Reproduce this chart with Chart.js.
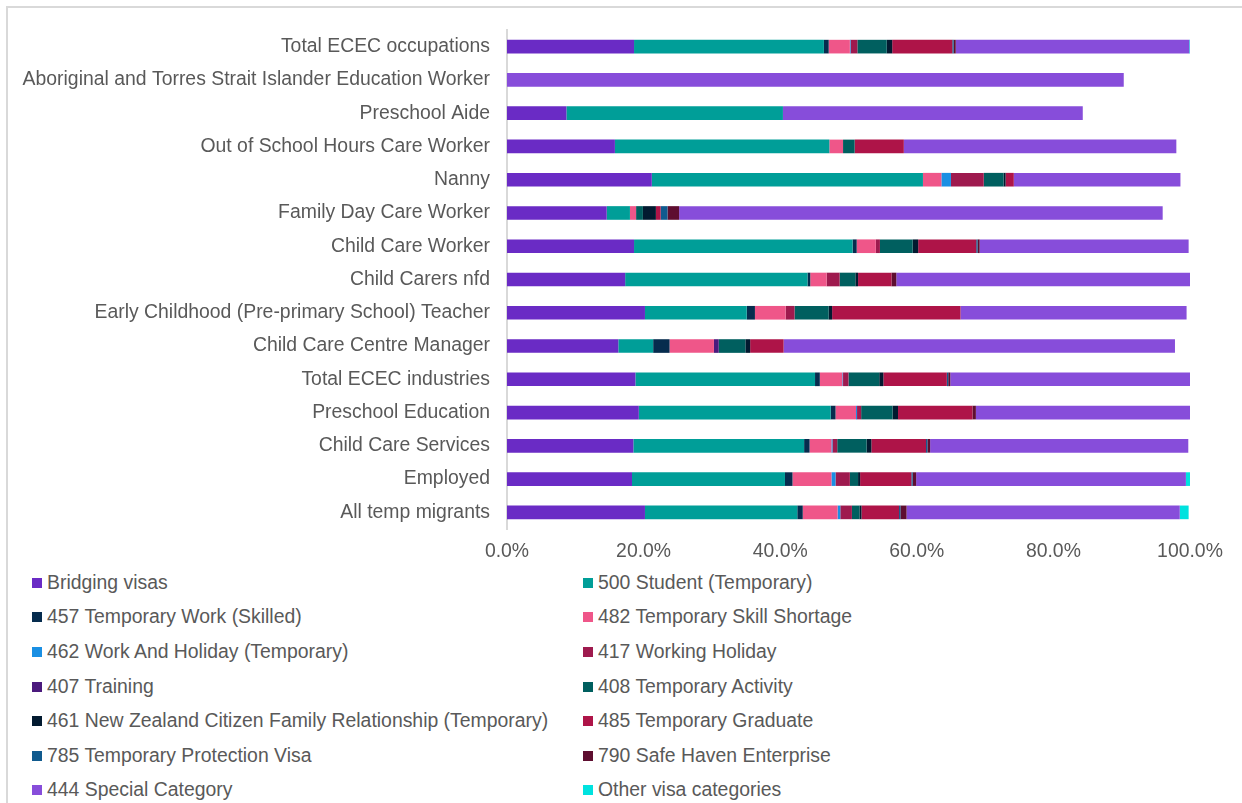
<!DOCTYPE html>
<html>
<head>
<meta charset="utf-8">
<title>Temporary visa holders in ECEC</title>
<script src="https://cdn.jsdelivr.net/npm/chart.js@4/dist/chart.umd.min.js"></script>
<style>
    html, body {
        margin: 0;
        padding: 0;
        background: #ffffff;
        width: 1242px;
        height: 803px;
        overflow: hidden;
        font-family: 'Liberation Sans', Arial, sans-serif;
    }
    #frame {
        position: absolute;
        left: 6px;
        top: 6px;
        width: 1260px;
        height: 820px;
        border: 2px solid #d9d9d9;
    }
    #chartWrap {
        position: absolute;
        left: 0;
        top: 0;
        width: 1242px;
        height: 560px;
    }
    .legend-item {
        position: absolute;
        height: 22px;
        line-height: 22px;
        font-size: 19.4px;
        color: #595959;
        white-space: nowrap;
    }
    .legend-box {
        display: inline-block;
        width: 10px;
        height: 10px;
        margin-right: 5px;
        vertical-align: 1px;
    }
</style>
</head>
<body>
<div id="frame"></div>
<div id="chartWrap"><canvas id="visaChart" width="1242" height="560"></canvas></div>
<div id="legend"></div>

<script>
// Categories, top to bottom
const categories = [
    'Total ECEC occupations',
    'Aboriginal and Torres Strait Islander Education Worker',
    'Preschool Aide',
    'Out of School Hours Care Worker',
    'Nanny',
    'Family Day Care Worker',
    'Child Care Worker',
    'Child Carers nfd',
    'Early Childhood (Pre-primary School) Teacher',
    'Child Care Centre Manager',
    'Total ECEC industries',
    'Preschool Education',
    'Child Care Services',
    'Employed',
    'All temp migrants'
];

// Share of each visa (%), same order as categories
const bridging    = [18.6, 0, 8.7, 15.8, 21.2, 14.6, 18.6, 17.3, 20.2, 16.3, 18.8, 19.3, 18.5, 18.3, 20.2];
const student500  = [27.8, 0, 31.7, 31.4, 39.7, 3.4, 32.0, 26.7, 14.9, 5.1, 26.3, 28.1, 25.0, 22.4, 22.3];
const skilled457  = [0.7, 0, 0, 0, 0, 0, 0.6, 0.4, 1.2, 2.4, 0.7, 0.7, 0.8, 1.1, 0.8];
const shortage482 = [3.1, 0, 0, 2.0, 2.7, 0.9, 2.8, 2.4, 4.5, 6.5, 3.3, 3.0, 3.2, 5.7, 5.1];
const workHol462  = [0.1, 0, 0, 0, 1.4, 0, 0, 0, 0, 0, 0.1, 0.15, 0.15, 0.6, 0.4];
const workHol417  = [1.0, 0, 0, 0, 4.8, 0, 0.6, 1.9, 1.3, 0, 0.8, 0.6, 0.7, 2.1, 1.7];
const training407 = [0, 0, 0, 0, 0, 0, 0, 0, 0, 0.7, 0, 0, 0, 0, 0];
const activity408 = [4.3, 0, 0, 1.7, 2.9, 1.0, 4.8, 2.3, 5.0, 3.9, 4.5, 4.6, 4.3, 1.2, 1.1];
const nzFamily461 = [0.8, 0, 0, 0, 0.3, 1.9, 0.8, 0.4, 0.5, 0.7, 0.6, 0.8, 0.7, 0.3, 0.3];
const graduate485 = [8.8, 0, 0, 7.2, 1.2, 0.7, 8.5, 4.9, 18.8, 4.9, 9.3, 10.9, 8.0, 7.5, 5.5];
const protect785  = [0.2, 0, 0, 0, 0, 1.0, 0.2, 0, 0, 0, 0.2, 0, 0.2, 0.2, 0.2];
const haven790    = [0.3, 0, 0, 0, 0, 1.7, 0.3, 0.7, 0, 0, 0.3, 0.5, 0.4, 0.5, 0.9];
const special444  = [34.2, 90.3, 43.9, 39.9, 24.4, 70.8, 30.6, 43.1, 33.1, 57.3, 35.3, 31.6, 37.8, 39.5, 40.0];
const otherVisas  = [0.2, 0, 0, 0, 0, 0, 0, 0, 0, 0, 0, 0, 0, 0.7, 1.3];

// X axis ticks
const xTicks = [0, 20, 40, 60, 80, 100];

// Series labels / colours, in stacking (and legend) order
const seriesLabels = [
    'Bridging visas',
    '500 Student (Temporary)',
    '457 Temporary Work (Skilled)',
    '482 Temporary Skill Shortage',
    '462 Work And Holiday (Temporary)',
    '417 Working Holiday',
    '407 Training',
    '408 Temporary Activity',
    '461 New Zealand Citizen Family Relationship (Temporary)',
    '485 Temporary Graduate',
    '785 Temporary Protection Visa',
    '790 Safe Haven Enterprise',
    '444 Special Category',
    'Other visa categories'
];
const seriesValues = [
    bridging, student500, skilled457, shortage482, workHol462, workHol417, training407,
    activity408, nzFamily461, graduate485, protect785, haven790, special444, otherVisas
];
const seriesColors = [
    '#6a2bc5', '#009e98', '#062c4e', '#ef5689', '#1a8fe3', '#9e1a4e', '#4b1a7d',
    '#005f5f', '#021a30', '#ae1448', '#105a8e', '#5e0e30', '#874dda', '#00e2df'
];

const TEXT_COLOR = '#595959';
const FONT = { family: "'Liberation Sans', Arial, sans-serif", size: 19.4 };

const datasets = seriesLabels.map((label, i) => ({
    label: label,
    data: seriesValues[i],
    backgroundColor: seriesColors[i],
    borderWidth: 0,
    barPercentage: 0.41,
    categoryPercentage: 1.0
}));

const ctx = document.getElementById('visaChart').getContext('2d');
const chart = new Chart(ctx, {
    type: 'bar',
    data: {
        labels: categories,
        datasets: datasets
    },
    options: {
        indexAxis: 'y',
        responsive: false,
        animation: false,
        devicePixelRatio: 1,
        layout: {
            padding: { left: 0, right: 52, top: 30, bottom: 0 }
        },
        plugins: {
            legend: { display: false },
            tooltip: { enabled: false }
        },
        scales: {
            x: {
                stacked: true,
                min: 0,
                max: 100,
                afterBuildTicks: (scale) => {
                    scale.ticks = xTicks.map(v => ({ value: v }));
                },
                afterFit: (scale) => {
                    scale.height = 31;
                },
                ticks: {
                    color: TEXT_COLOR,
                    font: FONT,
                    padding: 11,
                    maxRotation: 0,
                    callback: (value) => value.toFixed(1) + '%'
                },
                grid: { display: false, drawTicks: false },
                border: { display: false }
            },
            y: {
                stacked: true,
                afterFit: (scale) => {
                    scale.width = 507;
                },
                ticks: {
                    color: TEXT_COLOR,
                    font: FONT,
                    padding: 17,
                    autoSkip: false
                },
                grid: { display: false, drawTicks: false },
                border: { display: true, color: '#d9d9d9', width: 2 }
            }
        }
    }
});

// Two-column legend under the chart
const legendEl = document.getElementById('legend');
const legendColumnsX = [32, 583];
const legendTopY = 581.7;
const legendRowGap = 34.6;
seriesLabels.forEach((label, i) => {
    const item = document.createElement('div');
    item.className = 'legend-item';
    item.style.left = legendColumnsX[i % 2] + 'px';
    item.style.top = (legendTopY + Math.floor(i / 2) * legendRowGap - 11) + 'px';
    const box = document.createElement('span');
    box.className = 'legend-box';
    box.style.background = seriesColors[i];
    item.appendChild(box);
    item.appendChild(document.createTextNode(label));
    legendEl.appendChild(item);
});
</script>
</body>
</html>
